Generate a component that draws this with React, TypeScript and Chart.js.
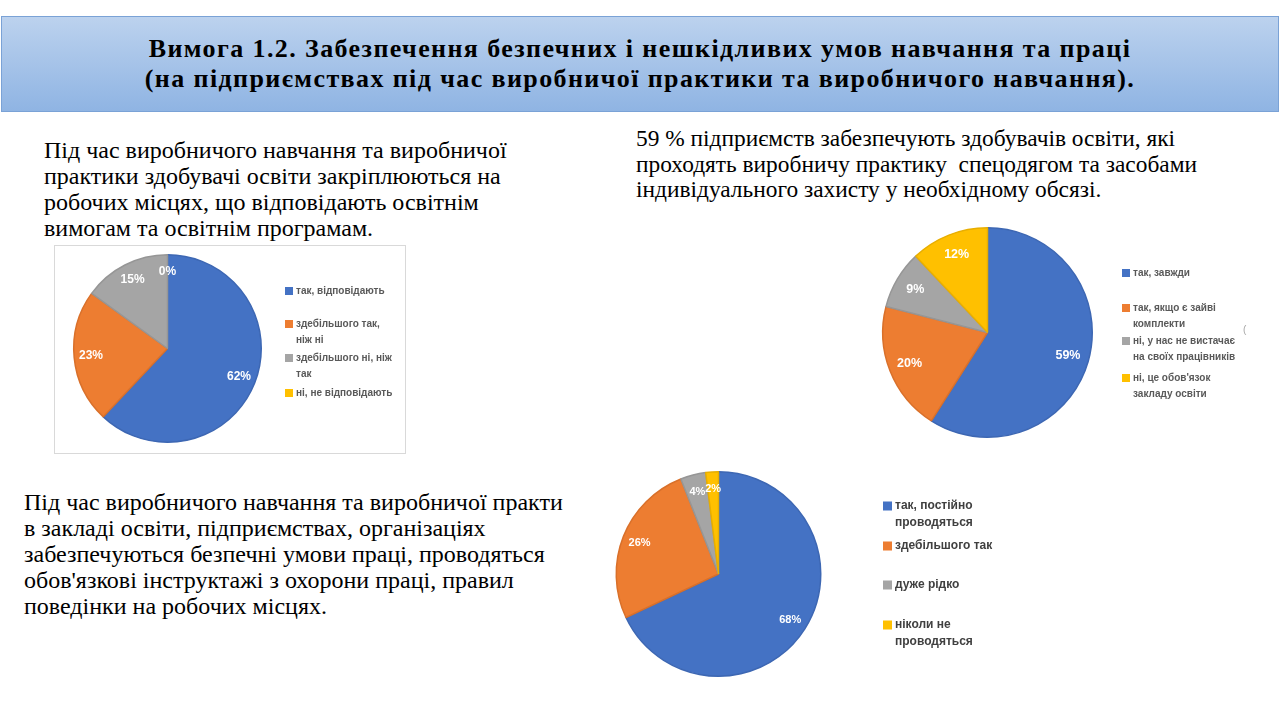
import React, { useEffect, useRef } from "react";
import { Chart, registerables } from "chart.js";

Chart.register(...registerables);

// ---------- DATA ----------
const titleLines = [
  "Вимога 1.2. Забезпечення безпечних і нешкідливих умов навчання та праці",
  "(на підприємствах під час виробничої практики та виробничого навчання).",
];

const text1Lines = [
  "Під час виробничого навчання та виробничої",
  "практики здобувачі освіти закріплюються на",
  "робочих місцях, що відповідають освітнім",
  "вимогам та освітнім програмам.",
];
const text2Lines = [
  "59 % підприємств забезпечують здобувачів освіти, які",
  "проходять виробничу практику  спецодягом та засобами",
  "індивідуального захисту у необхідному обсязі.",
];
const text3Lines = [
  "Під час виробничого навчання та виробничої практи",
  "в закладі освіти, підприємствах, організаціях",
  "забезпечуються безпечні умови праці, проводяться",
  "обов'язкові інструктажі з охорони праці, правил",
  "поведінки на робочих місцях.",
];

const pie1Labels = [
  ["так, відповідають"],
  ["здебільшого так,", "ніж ні"],
  ["здебільшого ні, ніж", "так"],
  ["ні, не відповідають"],
];
const pie1Values = [62, 23, 15, 0];

const pie2Labels = [
  ["так, завжди"],
  ["так, якщо є зайві", "комплекти"],
  ["ні, у нас не вистачає", "на своїх працівників"],
  ["ні, це обов'язок", "закладу освіти"],
];
const pie2Values = [59, 20, 9, 12];

const pie3Labels = [
  ["так, постійно", "проводяться"],
  ["здебільшого так"],
  ["дуже рідко"],
  ["ніколи не", "проводяться"],
];
const pie3Values = [68, 26, 4, 2];

const sliceColors = ["#4472c4", "#ed7d31", "#a5a5a5", "#ffc000"];
const sliceBorders = ["#3d67b3", "#d9702a", "#969696", "#e8ae00"];

// ---------- CHART ----------
type PieCfg = {
  labels: string[][];
  values: number[];
  width: number;
  height: number;
  padding: { left: number; top: number; right: number; bottom: number };
  legendX: number;
  legendY: number[];
  legendLineH: number;
  legendFont: number;
  legendColor: string;
  labelFont: number;
  labelFrac: number;
};

function PieChart({ cfg }: { cfg: PieCfg }) {
  const ref = useRef<HTMLCanvasElement | null>(null);
  useEffect(() => {
    if (!ref.current) return;
    const labelPlugin = {
      id: "pctLabels",
      afterDatasetsDraw(chart: any) {
        const ctx = chart.ctx;
        const meta = chart.getDatasetMeta(0);
        const data = chart.data.datasets[0].data as number[];
        ctx.save();
        ctx.font = `bold ${cfg.labelFont}px "Liberation Sans", Arial, sans-serif`;
        ctx.fillStyle = "#ffffff";
        ctx.textAlign = "center";
        ctx.textBaseline = "middle";
        meta.data.forEach((arc: any, i: number) => {
          const p = arc.getProps(["x", "y", "startAngle", "endAngle", "outerRadius"], true);
          const mid = (p.startAngle + p.endAngle) / 2;
          const r = p.outerRadius * cfg.labelFrac;
          ctx.fillText(`${data[i]}%`, p.x + Math.cos(mid) * r, p.y + Math.sin(mid) * r);
        });
        ctx.restore();
      },
    };
    const legendPlugin = {
      id: "sideLegend",
      afterDraw(chart: any) {
        const ctx = chart.ctx;
        const labels = chart.data.labels as string[][];
        const colors = chart.data.datasets[0].backgroundColor as string[];
        ctx.save();
        ctx.font = `bold ${cfg.legendFont}px "Liberation Sans", Arial, sans-serif`;
        ctx.textBaseline = "middle";
        ctx.textAlign = "left";
        const sq = Math.round(cfg.legendFont * 0.75);
        labels.forEach((lines, i) => {
          const y0 = cfg.legendY[i];
          ctx.fillStyle = colors[i];
          ctx.fillRect(cfg.legendX, y0 - sq / 2, sq, sq);
          ctx.fillStyle = cfg.legendColor;
          lines.forEach((t, j) => {
            ctx.fillText(t, cfg.legendX + sq + 3, y0 + j * cfg.legendLineH);
          });
        });
        ctx.restore();
      },
    };
    const chart = new Chart(ref.current, {
      type: "pie",
      data: {
        labels: cfg.labels as any,
        datasets: [
          {
            data: cfg.values,
            backgroundColor: sliceColors,
            borderColor: sliceBorders,
            borderWidth: 1.5,
          },
        ],
      },
      options: {
        animation: false,
        responsive: false,
        maintainAspectRatio: false,
        layout: { padding: cfg.padding },
        plugins: { legend: { display: false }, tooltip: { enabled: false } },
      },
      plugins: [labelPlugin, legendPlugin],
    });
    return () => chart.destroy();
  }, [cfg]);
  return <canvas ref={ref} width={cfg.width} height={cfg.height} style={{ display: "block" }} />;
}

const pie1Cfg: PieCfg = {
  labels: pie1Labels,
  values: pie1Values,
  width: 350,
  height: 207,
  padding: { left: 18, top: 8, right: 143, bottom: 10 },
  legendX: 230,
  legendY: [45, 78, 112, 147],
  legendLineH: 16,
  legendFont: 10,
  legendColor: "#595959",
  labelFont: 12,
  labelFrac: 0.82,
};
const pie2Cfg: PieCfg = {
  labels: pie2Labels,
  values: pie2Values,
  width: 410,
  height: 230,
  padding: { left: 12, top: 7, right: 187, bottom: 12 },
  legendX: 252,
  legendY: [53, 88, 121, 158],
  legendLineH: 16,
  legendFont: 10,
  legendColor: "#595959",
  labelFont: 12.5,
  labelFrac: 0.8,
};
const pie3Cfg: PieCfg = {
  labels: pie3Labels,
  values: pie3Values,
  width: 420,
  height: 220,
  padding: { left: 15, top: 6, right: 198, bottom: 8 },
  legendX: 283,
  legendY: [41, 81, 120, 160],
  legendLineH: 17,
  legendFont: 12,
  legendColor: "#404040",
  labelFont: 11,
  labelFrac: 0.83,
};

const serif = '"Liberation Serif", "Times New Roman", serif';

function TextBlock({ lines, left, top, size, lh }: { lines: string[]; left: number; top: number; size: number; lh: number }) {
  return (
    <div
      style={{
        position: "absolute",
        left,
        top,
        fontFamily: serif,
        fontSize: size,
        lineHeight: `${lh}px`,
        color: "#000",
        whiteSpace: "pre",
      }}
    >
      {lines.map((l, i) => (
        <div key={i}>{l}</div>
      ))}
    </div>
  );
}

export default function App() {
  return (
    <div
      style={{
        position: "absolute",
        left: 0,
        top: 0,
        width: 1280,
        height: 720,
        background: "#ffffff",
        overflow: "hidden",
      }}
    >
      <div
        style={{
          position: "absolute",
          left: 1,
          top: 16,
          width: 1276,
          height: 94,
          border: "1px solid #7aa2d6",
          background: "linear-gradient(#bcd2ee, #8fb4e3)",
          display: "flex",
          flexDirection: "column",
          justifyContent: "center",
          alignItems: "center",
          fontFamily: serif,
          fontWeight: "bold",
          fontSize: 26,
          letterSpacing: "1.4px",
          lineHeight: "30px",
          color: "#000",
        }}
      >
        {titleLines.map((l, i) => (
          <div key={i}>{l}</div>
        ))}
      </div>

      <TextBlock lines={text1Lines} left={44} top={137} size={24} lh={26} />
      <TextBlock lines={text2Lines} left={636} top={126} size={23.4} lh={25.5} />
      <TextBlock lines={text3Lines} left={24} top={489} size={24} lh={26} />

      <div style={{ position: "absolute", left: 54, top: 245, width: 350, height: 207, border: "1px solid #d9d9d9" }}>
        <PieChart cfg={pie1Cfg} />
      </div>
      <div style={{ position: "absolute", left: 870, top: 220 }}>
        <PieChart cfg={pie2Cfg} />
      </div>
      <div style={{ position: "absolute", left: 1243, top: 324, fontFamily: '"Liberation Sans", sans-serif', fontSize: 10, color: "#a6a6a6" }}>(</div>
      <div style={{ position: "absolute", left: 600, top: 465 }}>
        <PieChart cfg={pie3Cfg} />
      </div>
    </div>
  );
}
